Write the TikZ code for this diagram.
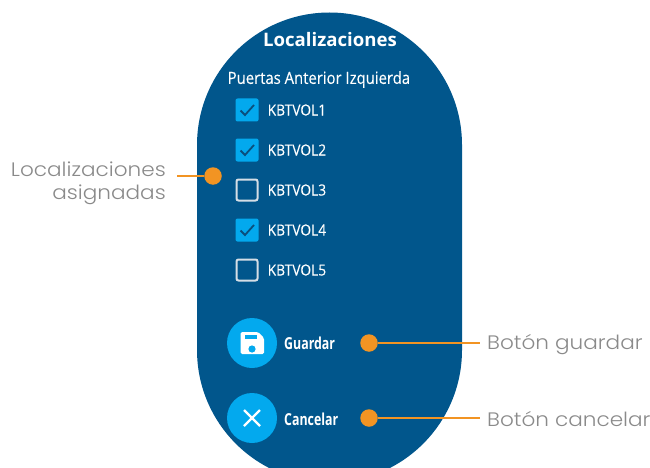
\documentclass[tikz,border=0pt]{standalone}
\usepackage{fontspec}
\setmainfont{Liberation Sans}
\newfontfamily\itemfont[FakeStretch=0.895,FakeBold=0.12]{Open Sans}
\newfontfamily\subfont[FakeStretch=0.885,FakeBold=0.12]{Open Sans}
\newfontfamily\titlefont[FakeStretch=1.0]{Open Sans Bold}
\newfontfamily\btnfont[FakeStretch=0.75]{Open Sans Bold}
\newfontfamily\labelfont[FakeStretch=1.107]{Poppins Light}
\definecolor{panel}{HTML}{01568C}
\definecolor{accent}{HTML}{03A9EE}
\definecolor{tick}{HTML}{0B4F7C}
\definecolor{callout}{HTML}{F29423}
\definecolor{labelgray}{HTML}{8A8A8A}
\definecolor{boxline}{HTML}{D5DEE6}
\tikzset{
  x=1pt,y=-1pt,
  uitext/.style={text=white,inner sep=0pt,anchor=west,font=\itemfont\fontsize{15.4}{17}\selectfont},
  btntext/.style={text=white,inner sep=0pt,anchor=west,font=\btnfont\fontsize{16.5}{18}\selectfont},
  calltext/.style={text=labelgray,inner sep=0pt,font=\labelfont\fontsize{19.5}{23}\selectfont},
  dotmark/.style={circle,fill=callout,inner sep=0pt,minimum size=17.5pt},
  leader/.style={draw=callout,line width=2pt},
  roundbtn/.style={circle,fill=accent,inner sep=0pt,minimum size=50pt},
  boxon/.style={draw=none,fill=accent,rounded corners=2pt,inner sep=0pt,minimum size=23pt},
  boxoff/.style={draw=boxline,line width=2pt,rounded corners=2pt,inner sep=0pt,minimum size=21pt},
  tickline/.style={draw=tick,line width=1.8pt},
}
\begin{document}
\begin{tikzpicture}
\useasboundingbox (0,0) rectangle (650,468);
\begin{scope}
  \clip (0,0) rectangle (650,468);
  \fill[panel] (197,145) arc[start angle=180,end angle=0,x radius=132.5,y radius=-132.5]
     -- (462,350) arc[start angle=0,end angle=-180,x radius=132.5,y radius=-132.5] -- cycle;
\end{scope}
\node[text=white,inner sep=0pt,font=\titlefont\fontsize{18.6}{20}\selectfont] (title) at (330,40) {Localizaciones};
\node[uitext,font=\subfont\fontsize{16.8}{18}\selectfont] (sub) at (227.5,79.5) {Puertas Anterior Izquierda};

\node[boxon] (b1) at (247,110) {};
\node[boxon] (b2) at (247,150) {};
\node[boxoff] (b3) at (247,190) {};
\node[boxon] (b4) at (247,230) {};
\node[boxoff] (b5) at (247,270) {};
\foreach \b in {b1,b2,b4}{
  \draw[tickline] ([shift={(-6.5,0.5)}]\b.center) -- ([shift={(-2,5)}]\b.center) -- ([shift={(7,-5)}]\b.center);
}
\node[uitext] (k1) at (267.5,110) {KBTVOL1};
\node[uitext] (k2) at (267.5,150) {KBTVOL2};
\node[uitext] (k3) at (267.5,190) {KBTVOL3};
\node[uitext] (k4) at (267.5,230) {KBTVOL4};
\node[uitext] (k5) at (267.5,270) {KBTVOL5};

\node[roundbtn] (save) at (252,343) {};
\fill[white,rounded corners=1.5pt] (240.5,332) -- (258,332) -- (264,338) -- (264,354) -- (240.5,354) -- cycle;
\fill[accent] (244.5,335) rectangle (257,339);
\fill[accent] (252,349) circle (3.6);
\node[roundbtn] (cancel) at (252,418) {};
\draw[white,line width=2.2pt] (244,410) -- (260,426) (260,410) -- (244,426);
\node[btntext] (gl) at (284,343) {Guardar};
\node[btntext] (cl) at (284,419) {Cancelar};

\node[dotmark] (d1) at (213,176) {};
\node[dotmark] (d2) at (369,343) {};
\node[dotmark] (d3) at (369,418) {};
\node[calltext,align=right,anchor=north east] (l1) at (166,161.5) {Localizaciones\\asignadas};
\node[calltext,anchor=west] (l2) at (487,345) {Botón guardar};
\node[calltext,anchor=west] (l3) at (487,419.5) {Botón cancelar};
\coordinate (e1) at (177,176);
\coordinate (e2) at (480,343);
\coordinate (e3) at (480,418);
\draw[leader] (e1) -- (d1);
\draw[leader] (d2) -- (e2);
\draw[leader] (d3) -- (e3);
\end{tikzpicture}
\end{document}
